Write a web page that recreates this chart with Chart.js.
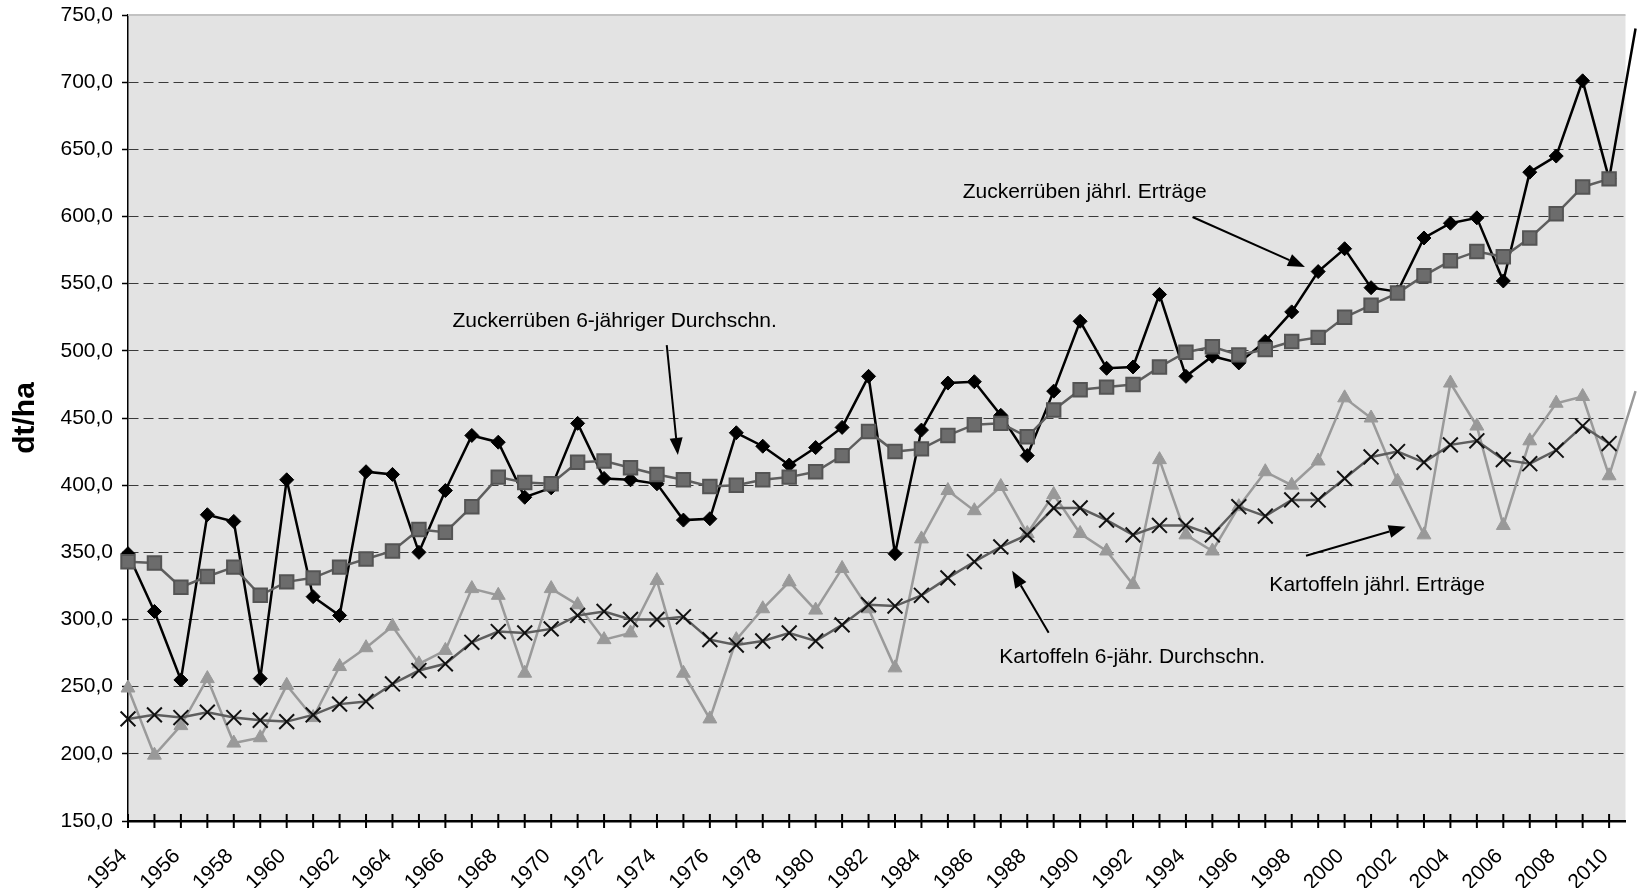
<!DOCTYPE html>
<html lang="de">
<head>
<meta charset="utf-8">
<title>Zuckerrüben- und Kartoffelerträge</title>
<script src="https://cdn.jsdelivr.net/npm/chart.js@4.4.1/dist/chart.umd.min.js"></script>
<style>
  html, body { margin: 0; padding: 0; background: #fff; overflow: hidden; }
  canvas { display: block; }
</style>
</head>
<body>
<canvas id="ertragChart" width="1638" height="888"></canvas>
<script>
const years = [1954, 1955, 1956, 1957, 1958, 1959, 1960, 1961, 1962, 1963,
  1964, 1965, 1966, 1967, 1968, 1969, 1970, 1971, 1972, 1973,
  1974, 1975, 1976, 1977, 1978, 1979, 1980, 1981, 1982, 1983,
  1984, 1985, 1986, 1987, 1988, 1989, 1990, 1991, 1992, 1993,
  1994, 1995, 1996, 1997, 1998, 1999, 2000, 2001, 2002, 2003,
  2004, 2005, 2006, 2007, 2008, 2009, 2010, 2011]

// dt/ha
const zrJahr = [349, 306, 255, 378, 373, 256, 404, 317, 303, 410,
  408, 350, 396, 437, 432, 391, 398, 446, 405, 404,
  401, 374, 375, 439, 429, 415, 428, 443, 481, 349,
  441, 476, 477, 452, 422, 470, 522, 487, 488, 542,
  481, 496, 491, 507, 529, 559, 576, 547, 544, 584,
  595, 599, 552, 633, 645, 701, 628, 740]
const zrSchnitt = [343, 342, 324, 332, 339, 318, 328, 331, 339, 345,
  351, 367, 365, 384, 406, 402, 401, 417, 418, 413,
  408, 404, 399, 400, 404, 406, 410, 422, 440, 425,
  427, 437, 445, 446, 436, 456, 471, 473, 475, 488,
  499, 503, 497, 501, 507, 510, 525, 534, 543, 556,
  567, 574, 570, 584, 602, 622, 628, null]
const kaJahr = [249, 199, 221, 256, 208, 212, 251, 227, 265, 279,
  295, 267, 277, 323, 318, 260, 323, 311, 285, 290,
  329, 260, 226, 285, 308, 328, 307, 338, 308, 264,
  360, 396, 381, 399, 364, 393, 364, 351, 326, 419,
  363, 351, 384, 410, 400, 418, 465, 450, 403, 363,
  476, 444, 370, 433, 461, 466, 407, 470]
const kaSchnitt = [226, 229, 227, 231, 227, 225, 224, 229, 237, 239,
  252, 262, 267, 283, 291, 290, 293, 303, 306, 300,
  300, 302, 285, 281, 284, 290, 284, 296, 311, 310,
  318, 331, 343, 354, 363, 383, 383, 374, 363, 370,
  370, 363, 384, 377, 389, 389, 405, 421, 425, 417,
  430, 433, 419, 416, 426, 444, 431, null]

const yTicks = [150, 750, 50]   // min, max, step
const xLast = 2010.62            // picture is cut off just after 2010

// labels with arrows, in data coordinates [year, dt/ha]
const notes = [
  { text: 'Zuckerrüben 6-jähriger Durchschn.', at: [1972.4, 521.7], from: [1974.37, 504.3], to: [1974.79, 422.5] },
  { text: 'Zuckerrüben jährl. Erträge', at: [1990.17, 618.2], from: [1994.25, 599.6], to: [1998.5, 562.4] },
  { text: 'Kartoffeln 6-jähr. Durchschn.', at: [1991.97, 272.3], from: [1988.81, 290.2], to: [1987.43, 336.3] },
  { text: 'Kartoffeln jährl. Erträge', at: [2001.23, 325.2], from: [1998.54, 347.5], to: [2002.31, 369.1] }
]

const FONT = '"Liberation Sans", Arial, Helvetica, sans-serif'
Chart.defaults.font.family = FONT
Chart.defaults.color = '#000'

const pts = arr => years.map((j, i) => ({ x: j, y: arr[i] }))

function arrow(ctx, x1, y1, x2, y2) {
  const ang = Math.atan2(y2 - y1, x2 - x1)
  const len = 17, half = 6.5
  const bx = x2 - Math.cos(ang) * len, by = y2 - Math.sin(ang) * len
  ctx.beginPath()
  ctx.moveTo(x1, y1)
  ctx.lineTo(bx, by)
  ctx.stroke()
  ctx.beginPath()
  ctx.moveTo(x2, y2)
  ctx.lineTo(bx + Math.sin(ang) * half, by - Math.cos(ang) * half)
  ctx.lineTo(bx - Math.sin(ang) * half, by + Math.cos(ang) * half)
  ctx.closePath()
  ctx.fill()
}

const extras = {
  id: 'extras',
  beforeDraw(chart) {
    const { ctx, chartArea: a } = chart
    ctx.save()
    ctx.fillStyle = '#e3e3e3'
    ctx.fillRect(a.left, a.top, a.right - a.left, a.bottom - a.top)
    ctx.restore()
  },
  afterDraw(chart) {
    const { ctx, chartArea: a, scales: { x, y } } = chart
    ctx.save()
    // light top edge of the plot
    ctx.strokeStyle = '#c2c2c2'
    ctx.lineWidth = 2
    ctx.beginPath()
    ctx.moveTo(a.left, a.top)
    ctx.lineTo(a.right, a.top)
    ctx.stroke()
    // a tick for every year, crossing the axis
    ctx.strokeStyle = '#000'
    ctx.lineWidth = 2
    years.forEach(j => {
      const px = x.getPixelForValue(j)
      if (px > a.right + 1) return
      ctx.beginPath()
      ctx.moveTo(px, a.bottom - 7)
      ctx.lineTo(px, a.bottom + 7)
      ctx.stroke()
    })
    // annotations
    ctx.font = '21px ' + FONT
    ctx.fillStyle = '#000'
    ctx.textAlign = 'center'
    ctx.textBaseline = 'middle'
    ctx.lineWidth = 2
    notes.forEach(n => {
      ctx.fillText(n.text, x.getPixelForValue(n.at[0]), y.getPixelForValue(n.at[1]))
      arrow(ctx, x.getPixelForValue(n.from[0]), y.getPixelForValue(n.from[1]),
        x.getPixelForValue(n.to[0]), y.getPixelForValue(n.to[1]))
    })
    ctx.restore()
  }
}

new Chart(document.getElementById('ertragChart'), {
  type: 'line',
  data: {
    datasets: [
      {
        label: 'Zuckerrüben 6-jähriger Durchschn.',
        data: pts(zrSchnitt),
        borderColor: '#5e5e5e',
        borderWidth: 2.5,
        pointStyle: 'rect',
        pointRadius: 9.5,
        pointBackgroundColor: '#6c6c6c',
        pointBorderColor: '#545454',
        pointBorderWidth: 2
      },
      {
        label: 'Zuckerrüben jährl. Erträge',
        data: pts(zrJahr),
        borderColor: '#000',
        borderWidth: 2.5,
        pointStyle: 'rectRot',
        pointRadius: 7,
        pointBackgroundColor: '#000',
        pointBorderColor: '#000',
        pointBorderWidth: 1
      },
      {
        label: 'Kartoffeln 6-jähr. Durchschn.',
        data: pts(kaSchnitt),
        borderColor: '#5e5e5e',
        borderWidth: 2.5,
        pointStyle: 'crossRot',
        pointRadius: 10.5,
        pointBorderColor: '#111',
        pointBorderWidth: 2
      },
      {
        label: 'Kartoffeln jährl. Erträge',
        data: pts(kaJahr),
        borderColor: '#9a9a9a',
        borderWidth: 2.5,
        pointStyle: 'triangle',
        pointRadius: 8,
        pointBackgroundColor: '#999',
        pointBorderColor: '#999',
        pointBorderWidth: 1
      }
    ]
  },
  options: {
    responsive: false,
    animation: false,
    devicePixelRatio: 1,
    clip: false,
    layout: { padding: { top: 15, right: 0, bottom: 0, left: 0 } },
    plugins: {
      legend: { display: false },
      tooltip: { enabled: false }
    },
    scales: {
      x: {
        type: 'linear',
        min: years[0],
        max: xLast,
        grid: { display: false },
        border: { display: true, color: '#000', width: 2.5 },
        ticks: {
          stepSize: 2,
          includeBounds: false,
          autoSkip: false,
          minRotation: 45,
          maxRotation: 45,
          padding: 15,
          labelOffset: -4,
          font: { size: 21 },
          callback: v => String(v)
        },
        afterFit(s) { s.height = 67; s.paddingLeft = 0; s.paddingRight = 0 }
      },
      y: {
        min: yTicks[0],
        max: yTicks[1],
        border: { display: true, color: '#000', width: 1.5, dash: [10, 5] },
        grid: {
          color: c => (c.tick && c.tick.value === yTicks[1]) ? 'rgba(0,0,0,0)' : '#3a3a3a',
          lineWidth: 1,
          tickLength: 6,
          tickColor: '#000',
          tickBorderDash: [],
          tickWidth: 1.5
        },
        ticks: {
          stepSize: yTicks[2],
          padding: 9,
          font: { size: 21 },
          callback: v => v.toFixed(1).replace('.', ',')
        },
        title: {
          display: true,
          text: 'dt/ha',
          font: { size: 30, weight: 'bold' },
          padding: { top: 8, bottom: 0 }
        },
        afterFit(s) { s.width = 128; s.paddingTop = 0; s.paddingBottom = 0 }
      }
    }
  },
  plugins: [extras]
})
</script>
</body>
</html>
